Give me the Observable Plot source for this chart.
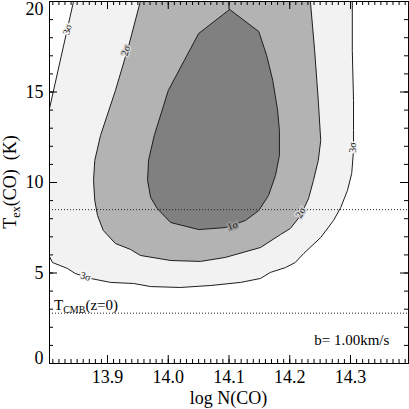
<!DOCTYPE html>
<html><head><meta charset="utf-8">
<script src="https://cdn.jsdelivr.net/npm/d3@7"></script>
<script src="https://cdn.jsdelivr.net/npm/@observablehq/plot@0.6"></script>
<style>body{margin:0;background:#fff}svg{display:block}</style>
</head><body><div id="chart"></div>
<script>
// 3-sigma contour (closed against the plot edges)
const sigma3X = [13.844, 13.8045, 13.8045, 13.8095, 13.834, 13.847, 13.872, 13.905, 13.943, 13.971, 14.020, 14.070, 14.119, 14.152, 14.168, 14.193, 14.209, 14.223, 14.251, 14.272, 14.284, 14.295, 14.302, 14.305, 14.305, 14.305, 14.303, 14.303];
const sigma3Y = [20.0, 14.09, 5.91, 5.58, 5.25, 4.97, 4.70, 4.48, 4.42, 4.25, 4.20, 4.31, 4.48, 4.70, 5.03, 5.30, 5.58, 6.08, 6.96, 7.90, 8.62, 9.56, 10.50, 11.77, 12.87, 14.53, 17.29, 20.0];
// 2-sigma contour
const sigma2X = [13.954, 13.935, 13.913, 13.8885, 13.879, 13.877, 13.879, 13.8835, 13.893, 13.913, 13.938, 13.954, 14.004, 14.053, 14.094, 14.152, 14.185, 14.201, 14.218, 14.231, 14.239, 14.247, 14.251, 14.247, 14.241, 14.234];
const sigma2Y = [20.0, 17.57, 15.08, 12.60, 11.22, 10.11, 9.01, 8.18, 7.35, 6.63, 6.30, 5.97, 5.69, 5.64, 5.86, 6.41, 7.13, 7.46, 8.18, 9.12, 10.11, 11.22, 12.32, 14.53, 17.29, 20.0];
// 1-sigma contour
const sigma1X = [14.101, 14.149, 14.162, 14.172, 14.180, 14.183, 14.183, 14.1765, 14.165, 14.149, 14.127, 14.094, 14.050, 14.004, 13.982, 13.971, 13.966, 13.9675, 13.977, 14.000, 14.050, 14.101];
const sigma1Y = [19.56, 18.34, 17.02, 15.64, 13.98, 12.87, 11.49, 10.39, 9.28, 8.45, 7.90, 7.51, 7.40, 7.79, 8.56, 9.17, 10.11, 11.22, 12.60, 15.08, 18.23, 19.56];

// contour labels
const labelText = ["3σ", "2σ", "1σ", "2σ", "3σ", "3σ"];
const labelX = [13.834, 13.930, 14.106, 14.218, 14.303, 13.864];
const labelY = [18.45, 17.29, 7.62, 8.34, 11.93, 4.81];

// reference temperatures (dotted lines)
const dottedLevels = [8.5, 2.78];
const cmbText = "T";
const cmbSub = "CMB";
const cmbRest = "(z=0)";
const cmbX = 13.8128;

const noteText = ["b= 1.00km/s"];
const noteX = [14.364];
const noteY = [1.27];

const xMajor = [13.9, 14.0, 14.1, 14.2, 14.3];
const xMinor = d3.range(1381, 1440).map(v => v / 100);
const yMajor = [0, 5, 10, 15, 20];
const yMinor = d3.range(0, 21);

const xTitle = "log N(CO)";
const yTitleMain = "T";
const yTitleSub = "ex";
const yTitleRest = "(CO)  (K)";

const toRows = (X, Y) => X.map((x, i) => ({x, y: Y[i]}));
const sig3 = toRows(sigma3X, sigma3Y);
const sig2 = toRows(sigma2X, sigma2Y);
const sig1 = toRows(sigma1X, sigma1Y);
const labels = labelText.map((t, i) => ({t, x: labelX[i], y: labelY[i]}));
const notes = noteText.map((t, i) => ({t, x: noteX[i], y: noteY[i]}));

const W = 409, H = 409;
const mL = 49, mR = 1, mT = 1, mB = 46;
const plotW = W - mL - mR, plotH = H - mT - mB;

const lineColor = "#1e1e1e";
const serif = "'Liberation Serif', 'Times New Roman', serif";
const labelRot = [-76, -73, -19, -60, -90, 17];
const labelHalo = ["#f8f8f8", "#d4d4d4", "#9a9a9a", "#d4d4d4", "#f8f8f8", "#f8f8f8"];

const labelMarks = labels.map((d, i) => Plot.text([d], {
  x: "x", y: "y", text: "t", rotate: labelRot[i], fontSize: 10, fill: "#111",
  stroke: labelHalo[i], strokeWidth: 3, fontFamily: serif
}));

// inward tick marks: full-frame ticks trimmed by insets to a short length
const tk = {stroke: "#000", strokeWidth: 1};
const tickMarks = [
  Plot.tickX(xMajor, {...tk, x: d => d, insetTop: plotH - 8}),
  Plot.tickX(xMinor, {...tk, x: d => d, insetTop: plotH - 4}),
  Plot.tickX(xMajor, {...tk, x: d => d, insetBottom: plotH - 8}),
  Plot.tickX(xMinor, {...tk, x: d => d, insetBottom: plotH - 4}),
  Plot.tickY(yMajor, {...tk, y: d => d, insetRight: plotW - 8}),
  Plot.tickY(yMinor, {...tk, y: d => d, insetRight: plotW - 4}),
  Plot.tickY(yMajor, {...tk, y: d => d, insetLeft: plotW - 8}),
  Plot.tickY(yMinor, {...tk, y: d => d, insetLeft: plotW - 4})
];

const plot = Plot.plot({
  width: W,
  height: H,
  marginLeft: mL,
  marginRight: mR,
  marginTop: mT,
  marginBottom: mB,
  style: {fontFamily: serif, background: "white", color: "black"},
  x: {domain: [13.8045, 14.3955]},
  y: {domain: [0, 20]},
  marks: [
    Plot.line(sig3, {x: "x", y: "y", fill: "#f2f2f2", stroke: lineColor, strokeWidth: 1, clip: true}),
    Plot.line(sig2, {x: "x", y: "y", fill: "#b3b3b3", stroke: lineColor, strokeWidth: 1, clip: true}),
    Plot.line(sig1, {x: "x", y: "y", fill: "#808080", stroke: lineColor, strokeWidth: 1, clip: true}),
    Plot.ruleY(dottedLevels, {stroke: "#222", strokeWidth: 1, strokeDasharray: "1,2"}),
    ...labelMarks,
    Plot.text(notes, {x: "x", y: "y", text: "t", textAnchor: "end", fontSize: 15, fontFamily: serif, fill: "black"}),
    ...tickMarks,
    Plot.axisX({ticks: xMajor, anchor: "bottom", tickSize: 0, tickPadding: 7, tickFormat: d3.format(".1f"), fontSize: 18, label: null}),
    Plot.axisY({ticks: yMajor.filter(v => v > 0 && v < 20), anchor: "left", tickSize: 0, tickPadding: 6, fontSize: 18, label: null}),
    Plot.axisY({ticks: yMajor.filter(v => v === 0), anchor: "left", tickSize: 0, tickPadding: 6, fontSize: 18, dy: -5, label: null}),
    Plot.axisY({ticks: yMajor.filter(v => v === 20), anchor: "left", tickSize: 0, tickPadding: 6, fontSize: 18, dy: 8, label: null}),
    Plot.frame({stroke: "black", strokeWidth: 1})
  ]
});

document.getElementById("chart").appendChild(plot);

const svg = d3.select(plot);
const xs = plot.scale("x"), ys = plot.scale("y");

// T_CMB label above the lower dotted line
const cmb = svg.append("text")
  .attr("x", xs.apply(cmbX))
  .attr("y", ys.apply(dottedLevels[1]) - 3)
  .attr("text-anchor", "start")
  .attr("font-family", serif).attr("font-size", 15).attr("fill", "black");
cmb.append("tspan").text(cmbText);
cmb.append("tspan").attr("font-size", 10).attr("dy", 3).text(cmbSub);
cmb.append("tspan").attr("dy", -3).text(cmbRest);

// x title
const xr = xs.range;
svg.append("text")
  .attr("x", (xr[0] + xr[1]) / 2)
  .attr("y", 404)
  .attr("text-anchor", "middle")
  .attr("font-family", serif).attr("font-size", 18).attr("fill", "black")
  .text(xTitle);

// y title
const yr = ys.range;
const yt = svg.append("text")
  .attr("transform", `translate(16,${(yr[0] + yr[1]) / 2}) rotate(-90)`)
  .attr("text-anchor", "middle")
  .attr("font-family", serif).attr("font-size", 18).attr("fill", "black")
  .style("white-space", "pre");
yt.append("tspan").text(yTitleMain);
yt.append("tspan").attr("font-size", 12).attr("dy", 4).text(yTitleSub);
yt.append("tspan").attr("dy", -4).text(yTitleRest);
</script>
</body></html>
